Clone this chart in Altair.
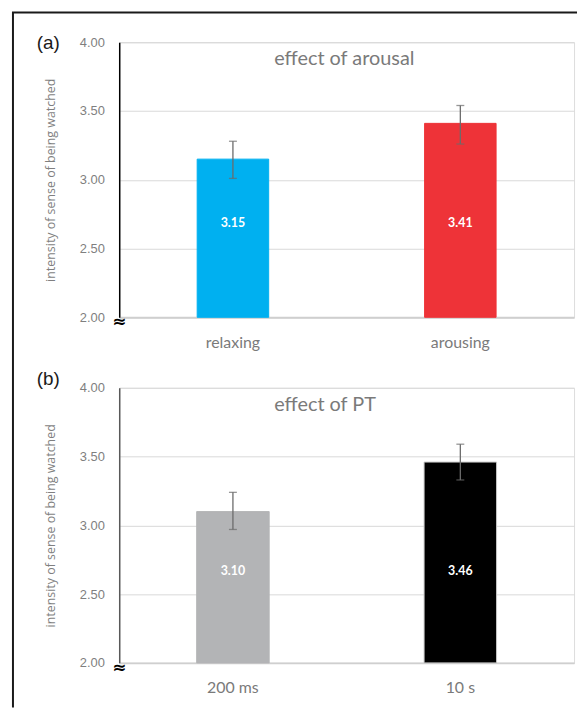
import altair as alt
import pandas as pd

# ---- data ----
cats_a = ["relaxing", "arousing"]
means_a = [3.15, 3.41]
lo_a = [3.01, 3.26]
hi_a = [3.28, 3.54]
labels_a = ["3.15", "3.41"]
colors_a = ["#00B0F0", "#EE3338"]
strokes_a = ["#00B0F0", "#EE3338"]

cats_b = ["200 ms", "10 s"]
means_b = [3.10, 3.46]
lo_b = [2.97, 3.33]
hi_b = [3.24, 3.59]
labels_b = ["3.10", "3.46"]
colors_b = ["#B3B4B6", "#000000"]
strokes_b = ["#B3B4B6", "#C8C8C8"]

y_ticks = [2.0, 2.5, 3.0, 3.5, 4.0]
y_title = "intensity of sense of being watched"

W, H = 458, 277


def panel(cats, means, lo, hi, labels, colors, strokes, title, tag, tag_y,
          domain_color, bar_size, label_y, border=False):
    df = pd.DataFrame({"cat": cats, "mean": means, "lo": lo, "hi": hi,
                       "label": labels})
    base = alt.Chart(df)
    x = alt.X("cat:N", sort=cats, title=None,
              scale=alt.Scale(paddingInner=0, paddingOuter=0),
              axis=alt.Axis(labelAngle=0, labelFont="Lato", labelFontSize=16,
                            labelColor="#7a7a7a", labelPadding=17,
                            ticks=False, tickSize=0, grid=False,
                            domainColor="#cfcfcf", domainWidth=2))
    yscale = alt.Scale(domain=[2, 4], zero=False, nice=False)
    yaxis = alt.Axis(values=y_ticks, format=".2f", labelFont="Liberation Sans",
                     labelFontSize=13, labelColor="#7f7f7f", labelPadding=15,
                     ticks=False, tickSize=0, domainColor=domain_color,
                     domainWidth=1.5, gridColor="#d9d9d9", gridWidth=1,
                     titleFont="Open Sans", titleFontSize=12.5,
                     titleFontWeight="normal", titleColor="#7f7f7f",
                     titlePadding=22)

    color = alt.Color("cat:N", scale=alt.Scale(domain=cats, range=colors),
                      legend=None)
    stroke = alt.Stroke("cat:N", scale=alt.Scale(domain=cats, range=strokes),
                        legend=None)
    bars = base.mark_bar(size=bar_size, strokeWidth=1).encode(
        x=x, y=alt.Y("mean:Q", title=y_title, scale=yscale, axis=yaxis),
        y2=alt.datum(2), color=color, stroke=stroke)

    err = base.mark_rule(color="#6b6b6b", strokeWidth=1.3).encode(
        x=x, y=alt.Y("lo:Q", title=y_title, scale=yscale), y2="hi:Q")
    cap_lo = base.mark_tick(color="#6b6b6b", size=8, thickness=1.3).encode(
        x=x, y=alt.Y("lo:Q", title=y_title, scale=yscale))
    cap_hi = base.mark_tick(color="#6b6b6b", size=8, thickness=1.3).encode(
        x=x, y=alt.Y("hi:Q", title=y_title, scale=yscale))
    vals = base.mark_text(color="white", font="Lato", fontWeight="bold",
                          fontSize=12.5).encode(
        x=x, y=alt.datum(label_y), text="label:N")

    one = pd.DataFrame({"t": [title]})
    ttl = alt.Chart(one).mark_text(align="left", baseline="alphabetic",
                                   font="Lato", fontSize=20,
                                   color="#7a7a7a").encode(
        x=alt.value(156), y=alt.value(23), text="t:N")
    tg = alt.Chart(pd.DataFrame({"t": [tag]})).mark_text(
        align="left", baseline="middle", font="Liberation Sans", fontSize=19,
        color="#1a1a1a").encode(x=alt.value(-83), y=alt.value(tag_y), text="t:N")
    brk = alt.Chart(pd.DataFrame({"t": ["\u2248"]})).mark_text(
        align="center", baseline="middle", font="DejaVu Sans", fontSize=17,
        fontWeight="bold", color="#000000").encode(
        x=alt.value(0), y=alt.value(H + 5), text="t:N")

    layers = [bars, err, cap_lo, cap_hi, vals, ttl, tg, brk]
    if border:
        z = pd.DataFrame({"z": [0]})
        left = alt.Chart(z).mark_rule(color="#1a1a1a", strokeWidth=2).encode(
            x=alt.value(-107), y=alt.value(-30), y2=alt.value(670))
        top = alt.Chart(z).mark_rule(color="#1a1a1a", strokeWidth=2).encode(
            x=alt.value(-108), x2=alt.value(461), y=alt.value(-30))
        layers += [left, top]
    return alt.layer(*layers).properties(width=W, height=H)


pa = panel(cats_a, means_a, lo_a, hi_a, labels_a, colors_a, strokes_a,
           "effect of arousal", "(a)", 1, "#000000", 72, 2.686, border=True)
pb = panel(cats_b, means_b, lo_b, hi_b, labels_b, colors_b, strokes_b,
           "effect of PT", "(b)", -8.5, "#595959", 73, 2.667)

chart = alt.vconcat(pa, pb, spacing=71, bounds="flush").resolve_scale(
    color="independent", stroke="independent", x="independent"
).properties(
    padding={"left": 2, "top": 0, "right": 0, "bottom": 0}
).configure_view(stroke=None).configure(background="white")

chart.save("out.html", embed_options={"renderer": "svg", "actions": False})
